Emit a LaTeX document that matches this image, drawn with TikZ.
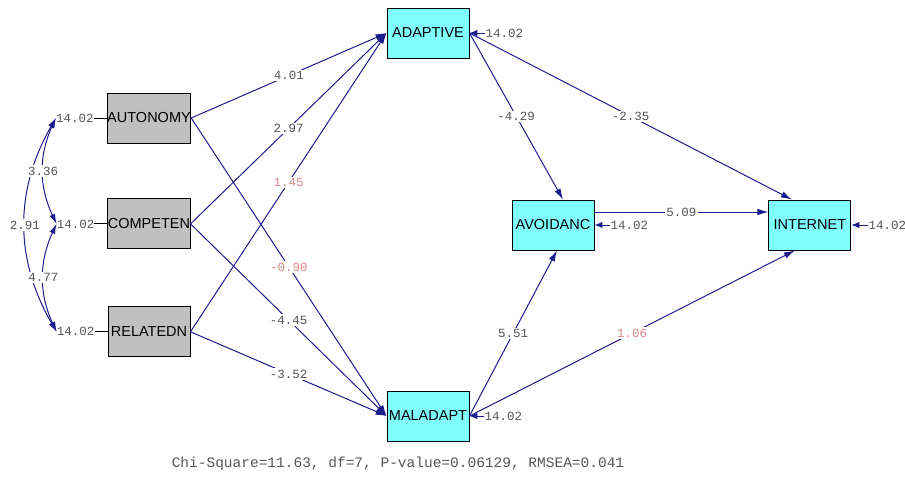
\documentclass[tikz,border=0pt]{standalone}
\usepackage{fontspec}
\setmainfont{Liberation Sans}
\setmonofont{Liberation Mono}
\usepackage{xcolor}
\definecolor{pathBlue}{HTML}{1C1C8C}
\definecolor{exoGray}{HTML}{C0C0C0}
\definecolor{endoCyan}{HTML}{80FFFF}
\definecolor{numGray}{HTML}{555555}
\definecolor{numRed}{HTML}{E08585}
\usepackage{tikz}
\usetikzlibrary{positioning,calc,arrows.meta}
\tikzset{%
  exoBox/.style={%
    rectangle,
    draw=black,
    line width=0.9pt,
    fill=exoGray,
    minimum width=82pt,
    minimum height=50pt,
    inner sep=0pt,
    font=\fontsize{14.5}{16}\selectfont
  },
  endoBox/.style={%
    exoBox,
    fill=endoCyan
  },
  pathLine/.style={%
    -{Latex[length=11pt,width=6.5pt]},
    line width=1pt,
    color=pathBlue
  },
  covLine/.style={%
    {Latex[length=10pt,width=6pt]}-{Latex[length=10pt,width=6pt]},
    line width=1pt,
    color=pathBlue
  },
  errArrow/.style={%
    -{Latex[length=8pt,width=6.5pt]},
    line width=1pt,
    color=pathBlue
  },
  coefLabel/.style={%
    fill=white,
    inner sep=1.5pt,
    text=numGray,
    font=\ttfamily\fontsize{12.5}{14}\selectfont
  },
  nsLabel/.style={%
    coefLabel,
    text=numRed
  },
  errLabel/.style={%
    inner sep=0pt,
    text=numGray,
    font=\ttfamily\fontsize{12.5}{14}\selectfont
  }
}

\begin{document}
\begin{tikzpicture}[x=1pt, y=-1pt]
  \useasboundingbox (0,0) rectangle (905,477);

  % exogenous boxes
  \node[exoBox] (autonomy) at (149,118) {AUTONOMY};
  \node[exoBox, below=55pt of autonomy] (competen) {COMPETEN};
  \node[exoBox, below=57pt of competen] (relatedn) {RELATEDN};

  % endogenous boxes
  \node[endoBox] (adaptive) at (428,33) {ADAPTIVE};
  \node[endoBox] (maladapt) at (428,416) {MALADAPT};
  \node[endoBox] (avoidanc) at (553,225) {AVOIDANC};
  \node[endoBox, right=174pt of avoidanc] (internet) {INTERNET};

  % error variances
  \node[errLabel, left=13pt of autonomy] (eAut) {14.02};
  \node[errLabel, left=13pt of competen] (eCom) {14.02};
  \node[errLabel, left=13pt of relatedn] (eRel) {14.02};
  \node[errLabel, right=16pt of adaptive] (eAda) {14.02};
  \node[errLabel, right=15pt of maladapt] (eMal) {14.02};
  \node[errLabel, right=16pt of avoidanc] (eAvo) {14.02};
  \node[errLabel, right=17pt of internet] (eInt) {14.02};

  \draw[line width=1pt] (eAut) -- (autonomy);
  \draw[line width=1pt] (eCom) -- (competen);
  \draw[line width=1pt] (eRel) -- (relatedn);
  \draw[errArrow] (eAda) -- (adaptive);
  \draw[errArrow] (eMal) -- (maladapt);
  \draw[errArrow] (eAvo) -- (avoidanc);
  \draw[errArrow] (eInt) -- (internet);

  % covariances
  \draw[covLine] (eAut.west) to[bend right=30] node[coefLabel] {2.91} (eRel.west);
  \draw[covLine] (eAut.west) to[bend right=25] node[coefLabel] {3.36} (eCom.west);
  \draw[covLine] (eCom.west) to[bend right=25] node[coefLabel] {4.77} (eRel.west);

  % paths
  \draw[pathLine] (autonomy.east) -- node[coefLabel] {4.01} (adaptive.west);
  \draw[pathLine] (competen.east) -- node[coefLabel] {2.97} (adaptive.west);
  \draw[pathLine] (relatedn.east) -- node[nsLabel] {1.45} (adaptive.west);
  \draw[pathLine] (autonomy.east) -- node[nsLabel] {-0.90} (maladapt.west);
  \draw[pathLine] (competen.east) -- node[coefLabel] {-4.45} (maladapt.west);
  \draw[pathLine] (relatedn.east) -- node[coefLabel] {-3.52} (maladapt.west);

  \draw[pathLine] (adaptive.east) -- node[coefLabel] {-4.29} ([xshift=10pt]avoidanc.north);
  \draw[pathLine] (adaptive.east) -- node[coefLabel] {-2.35} ([xshift=-18pt]internet.north);
  \draw[pathLine] (maladapt.east) -- node[coefLabel] {5.51} ([xshift=4pt]avoidanc.south);
  \draw[pathLine] (maladapt.east) -- node[nsLabel] {1.06} ([xshift=-15pt]internet.south);
  \draw[pathLine] ([yshift=13pt]avoidanc.east) -- node[coefLabel] {5.09} ([yshift=13pt]internet.west);

  % fit statistics
  \node[text=numGray, font=\ttfamily\fontsize{14.5}{16}\selectfont] (fitStats) at (398,464)
    {Chi-Square=11.63, df=7, P-value=0.06129, RMSEA=0.041};
\end{tikzpicture}
\end{document}
